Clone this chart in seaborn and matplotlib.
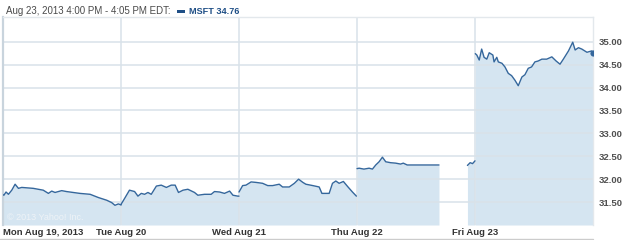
import matplotlib
matplotlib.use("Agg")
import matplotlib.pyplot as plt
import matplotlib.patches as mpatches
from matplotlib.lines import Line2D
import seaborn as sns
import pandas as pd
import numpy as np

# ---- data (minutes after 9:30 open, price) ----
mon_min = [0, 3, 10, 18, 29, 40, 51, 62, 100, 133, 150, 161, 172, 194, 210, 254, 288, 315, 343, 359, 370, 381, 390]
mon_px = [31.66, 31.65, 31.72, 31.67, 31.76, 31.89, 31.80, 31.82, 31.80, 31.76, 31.69, 31.74, 31.71, 31.75, 31.73,
          31.69, 31.67, 31.60, 31.54, 31.49, 31.43, 31.46, 31.44]
tue_min = [0, 1, 12, 28, 45, 56, 67, 78, 89, 100, 117, 133, 150, 166, 179, 190, 205, 221, 243, 254, 276, 298, 309,
           326, 342, 359, 370, 386, 390]
tue_px = [31.44, 31.46, 31.58, 31.76, 31.73, 31.63, 31.69, 31.67, 31.71, 31.67, 31.85, 31.87, 31.82, 31.87, 31.87,
          31.71, 31.76, 31.78, 31.71, 31.65, 31.67, 31.67, 31.73, 31.72, 31.69, 31.74, 31.65, 31.63, 31.63]
wed_min = [0, 7, 12, 23, 40, 56, 78, 95, 111, 133, 144, 166, 183, 197, 211, 221, 244, 265, 274, 298, 309, 320, 331,
           345, 359, 375, 388]
wed_px = [31.72, 31.80, 31.86, 31.87, 31.94, 31.93, 31.91, 31.86, 31.86, 31.89, 31.83, 31.83, 31.91, 32.00, 31.93,
          31.89, 31.86, 31.83, 31.69, 31.69, 31.91, 31.96, 31.91, 31.95, 31.84, 31.72, 31.63]
thu_a_min = [0, 7, 23, 40, 51, 62, 73, 84, 95, 111, 128, 144, 153, 166, 211, 271]
thu_a_px = [32.23, 32.24, 32.22, 32.24, 32.22, 32.31, 32.38, 32.48, 32.38, 32.36, 32.35, 32.33, 32.35, 32.31, 32.31,
            32.31]
thu_b_min = [365, 374, 382, 390]
thu_b_px = [32.30, 32.36, 32.34, 32.40]
fri_min = [1, 6, 14, 22, 30, 39, 47, 59, 63, 72, 77, 89, 99, 110, 121, 132, 143, 155, 165, 176, 187, 198, 209, 221,
           237, 254, 268, 281, 292, 309, 323, 331, 342, 353, 370, 386, 390]
fri_px = [34.74, 34.71, 34.60, 34.84, 34.66, 34.62, 34.76, 34.71, 34.56, 34.66, 34.56, 34.53, 34.45, 34.31, 34.26,
          34.16, 34.04, 34.23, 34.28, 34.42, 34.45, 34.56, 34.58, 34.62, 34.62, 34.67, 34.58, 34.51, 34.62, 34.80,
          34.99, 34.82, 34.87, 34.84, 34.77, 34.80, 34.76]

day_labels = ["Mon Aug 19, 2013", "Tue Aug 20", "Wed Aug 21", "Thu Aug 22", "Fri Aug 23"]
y_ticks = [31.5, 32.0, 32.5, 33.0, 33.5, 34.0, 34.5, 35.0]
header_text = "Aug 23, 2013 4:00 PM - 4:05 PM EDT:"
legend_text = "MSFT 34.76"
watermark = "\u00a9 2013 Yahoo! Inc."

segments = [
    (0, mon_min, mon_px), (1, tue_min, tue_px), (2, wed_min, wed_px),
    (3, thu_a_min, thu_a_px), (3, thu_b_min, thu_b_px), (4, fri_min, fri_px),
]
rows = []
for seg_id, (day, mins, pxs) in enumerate(segments):
    for m, p in zip(mins, pxs):
        rows.append({"seg": seg_id, "t": day * 390 + m, "price": p})
df = pd.DataFrame(rows)

# ---- style ----
sns.set_theme(style="white")
plt.rcParams["font.family"] = ["Liberation Sans", "DejaVu Sans"]

LINE = "#35679c"
FILL = "#d5e5f1"
GRID = "#d9e2e9"

fig = plt.figure(figsize=(6.25, 2.4), dpi=100)
ax = fig.add_axes([3 / 625, 15 / 240, 590 / 625, 208 / 240])

for seg_id, g in df.groupby("seg"):
    ax.fill_between(g["t"], g["price"], 31.0, color=FILL, lw=0, zorder=1)
    sns.lineplot(data=g, x="t", y="price", ax=ax, color=LINE, lw=1.0, zorder=3, legend=False)

last = df[df["seg"] == df["seg"].max()].iloc[-1]
ax.scatter([last["t"]], [last["price"]], s=20, color=LINE, zorder=4, lw=0)

ax.set_xlim(0, 5 * 390)
ax.set_ylim(31.0, 35.54)
ax.set_xlabel("")
ax.set_ylabel("")

ax.set_xticks([d * 390 for d in range(5)])
ax.set_xticklabels(day_labels, fontsize=6.8, fontweight="bold", color="#333333")
ax.get_xticklabels()[0].set_ha("left")
ax.set_yticks(y_ticks)
ax.set_yticklabels([f"{v:.2f}" for v in y_ticks], fontsize=6.8, fontweight="bold", color="#505050")
ax.yaxis.tick_right()
ax.tick_params(axis="both", length=0)
ax.tick_params(axis="x", pad=2)
ax.tick_params(axis="y", pad=4)

ax.grid(True, color=GRID, lw=1.1)
ax.set_axisbelow("line")

for s in ["top", "right"]:
    ax.spines[s].set_color("#e3e8ec")
    ax.spines[s].set_linewidth(1)
ax.spines["left"].set_color("#c9d4dd")
ax.spines["left"].set_linewidth(1.6)
ax.spines["bottom"].set_visible(False)

ax.text(0.007, 0.034, watermark, transform=ax.transAxes, fontsize=6.5, color="#eef3f7", va="center", ha="left",
        zorder=5)

# header
fig.text(6 / 625, 1 - 11 / 240, header_text, fontsize=7, color="#4a4a4a", va="center", ha="left")
fig.add_artist(mpatches.Rectangle((177 / 625, 1 - 13 / 240), 8 / 625, 3 / 240, transform=fig.transFigure,
                                  color="#1f4f86", lw=0))
fig.text(189 / 625, 1 - 11 / 240, legend_text, fontsize=6.6, fontweight="bold", color="#1f4f86", va="center",
         ha="left")

# bottom rule
fig.add_artist(Line2D([0, 593 / 625], [1.5 / 240, 1.5 / 240], transform=fig.transFigure, color="#cccccc", lw=1))

fig.savefig("out.png", dpi=100)
